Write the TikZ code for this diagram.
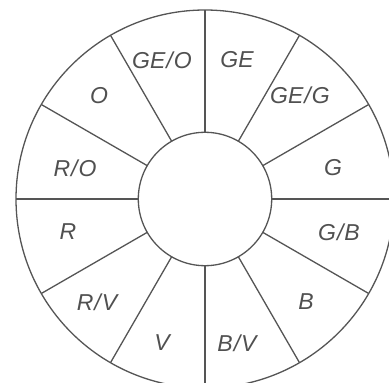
\documentclass[tikz,border=0pt]{standalone}
\usepackage{fontspec}
\setmainfont{Liberation Sans}
\newcommand{\sep}{\kern1pt/\kern1pt}
\begin{document}
\begin{tikzpicture}[x=1pt,y=1pt,
  ring/.style={draw=linegray,line width=1.3pt,circle,inner sep=0pt,outer sep=0pt},
  spoke/.style={draw=linegray,line width=1.3pt},
  lab/.style={font=\fontsize{23}{23}\selectfont\itshape,text=textgray,inner sep=0pt}]
\definecolor{linegray}{RGB}{85,85,85}
\definecolor{textgray}{RGB}{80,80,80}
\useasboundingbox (0,0) rectangle (389,383);
\clip (0,0) rectangle (389,383);
\fill[white] (0,0) rectangle (389,383);
\node[ring,minimum size=378pt] (outer) at (205,184) {};
\node[ring,minimum size=133.4pt] (inner) at (205,184) {};
\foreach \a in {0,30,...,330}{
  \draw[spoke] (inner.\a) -- (outer.\a);
}
\node[lab] (ge)   at (237,323) {GE};
\node[lab] (geg)  at (300,288) {GE\sep G};
\node[lab] (g)    at (333,215) {G};
\node[lab] (gb)   at (339,151) {G\sep B};
\node[lab] (b)    at (306,81)  {B};
\node[lab] (bv)   at (237,40)  {B\sep V};
\node[lab] (v)    at (162,40)  {V};
\node[lab] (rv)   at (97,81)   {R\sep V};
\node[lab] (r)    at (68,151)  {R};
\node[lab] (ro)   at (75,215)  {R\sep O};
\node[lab] (o)    at (99,287)  {O};
\node[lab] (geo)  at (162,323) {GE\sep O};
\end{tikzpicture}
\end{document}
